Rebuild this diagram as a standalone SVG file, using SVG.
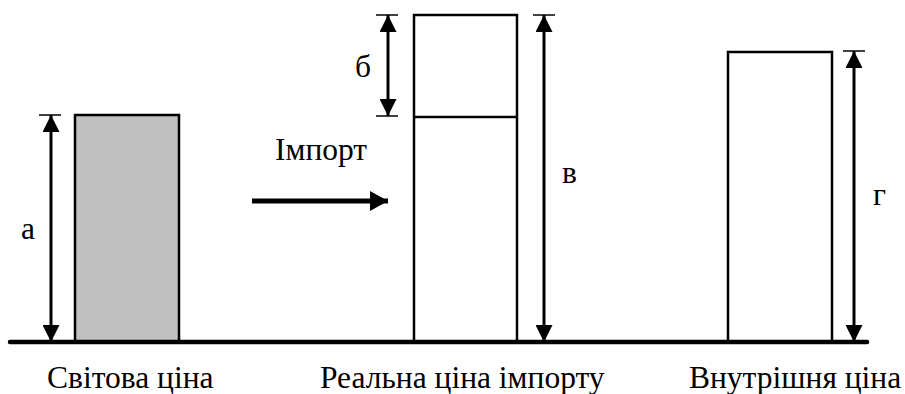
<svg xmlns="http://www.w3.org/2000/svg" width="905" height="394" viewBox="0 0 905 394">
<style>
.bar{stroke:#000;stroke-width:2.5}
.dim{stroke:#000;stroke-width:3;fill:none;marker-start:url(#ah);marker-end:url(#ah)}
.tick{stroke:#000;stroke-width:1.5}
.lbl{font-family:'Liberation Serif','Times New Roman',serif;font-size:31.5px;fill:#000}
</style>
<defs>
<marker id="ah" viewBox="0 0 17 17" markerWidth="17" markerHeight="17" refX="17" refY="8.5" orient="auto-start-reverse" markerUnits="userSpaceOnUse">
<path d="M0,0 L17,8.5 L0,17 Z" fill="#000"/>
</marker>
<marker id="ah2" viewBox="0 0 18 20" markerWidth="18" markerHeight="20" refX="18" refY="10" orient="auto" markerUnits="userSpaceOnUse">
<path d="M0,0 L18,10 L0,20 Z" fill="#000"/>
</marker>
</defs>
<g id="world">
<rect class="bar" x="75" y="115" width="104" height="227" fill="#c0c0c0"/>
</g>
<g id="real">
<rect class="bar" x="414" y="15" width="103" height="327" fill="#fff"/>
<line class="bar" x1="414" y1="117" x2="517" y2="117"/>
</g>
<g id="domestic">
<rect class="bar" x="728" y="52" width="104" height="290" fill="#fff"/>
</g>
<g id="connectors">
<line x1="10" y1="342" x2="867" y2="342" stroke="#000" stroke-width="4.5" stroke-linecap="round"/>
<line class="tick" x1="39" y1="115" x2="61" y2="115"/>
<line class="dim" x1="51" y1="115" x2="51" y2="342"/>
<line class="tick" x1="376" y1="15" x2="398" y2="15"/>
<line class="tick" x1="376" y1="116" x2="398" y2="116"/>
<line class="dim" x1="388" y1="15" x2="388" y2="116"/>
<line class="tick" x1="533" y1="15" x2="555" y2="15"/>
<line class="dim" x1="544" y1="15" x2="544" y2="342"/>
<line class="tick" x1="843" y1="51" x2="865" y2="51"/>
<line class="dim" x1="854" y1="51" x2="854" y2="342"/>
<line x1="252" y1="201" x2="388" y2="201" stroke="#000" stroke-width="5" marker-end="url(#ah2)"/>
</g>
<g id="labels">
<text class="lbl" x="21" y="239">а</text>
<text class="lbl" x="355" y="77">б</text>
<text class="lbl" x="562" y="183">в</text>
<text class="lbl" x="873" y="205">г</text>
<text class="lbl" x="275" y="160">Імпорт</text>
<text class="lbl" x="47" y="388">Світова ціна</text>
<text class="lbl" x="320" y="388">Реальна ціна імпорту</text>
<text class="lbl" x="689" y="388">Внутрішня ціна</text>
</g>
</svg>
